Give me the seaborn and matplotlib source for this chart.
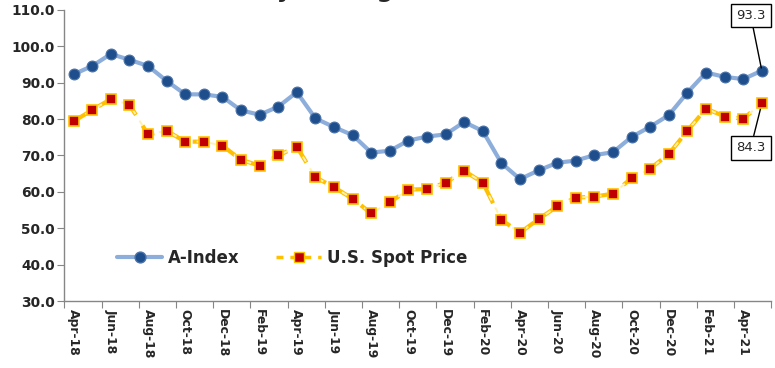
import matplotlib
matplotlib.use("Agg")
import matplotlib.pyplot as plt
import seaborn as sns
import pandas as pd
from matplotlib.lines import Line2D

# Monthly values, Apr-18 .. May-21
months = pd.date_range("2018-04-01", "2021-05-01", freq="MS").strftime("%b-%y").tolist()

a_index = [92.3, 94.6, 97.9, 96.3, 94.6, 90.5, 86.8, 86.8, 86.1, 82.4,
           81.2, 83.4, 87.4, 80.2, 77.8, 75.6, 70.8, 71.3, 74.1, 75.2,
           75.8, 79.2, 76.7, 67.9, 63.5, 65.9, 68.0, 68.6, 70.1, 70.9,
           75.1, 77.9, 81.1, 87.3, 92.8, 91.6, 91.0, 93.3]

us_spot = [79.4, 82.5, 85.5, 84.0, 75.8, 76.8, 73.8, 73.8, 72.7, 68.8,
           67.2, 70.0, 72.4, 64.0, 61.3, 58.1, 54.1, 57.1, 60.6, 60.8,
           62.5, 65.8, 62.5, 52.3, 48.8, 52.5, 56.0, 58.4, 58.7, 59.5,
           63.8, 66.4, 70.4, 76.8, 82.9, 80.7, 80.1, 84.3]

df = pd.DataFrame({"month": months, "A-Index": a_index, "U.S. Spot Price": us_spot})
df["pos"] = range(len(df))

sns.set_style("white")
plt.rcParams["font.family"] = ["DejaVu Sans"]

fig = plt.figure(figsize=(7.75, 3.68), dpi=100)
ax = fig.add_axes([0.083, 0.182, 0.912, 0.791])

blue_line = "#8DAEDB"
blue_mark = "#1F4E8C"
gold = "#FFC000"
red = "#C00000"

# A-Index
sns.lineplot(data=df, x="pos", y="A-Index", ax=ax, color=blue_line, linewidth=3,
             marker="o", markersize=7.8, markerfacecolor=blue_mark,
             markeredgecolor="#4A72A8", markeredgewidth=0.8, zorder=3)

# U.S. Spot Price: gold dashed line with light core
sns.lineplot(data=df, x="pos", y="U.S. Spot Price", ax=ax, color=gold, linewidth=3,
             zorder=2)
sns.lineplot(data=df, x="pos", y="U.S. Spot Price", ax=ax, color="#FFF2B0", linewidth=1.4,
             zorder=2.1)
ax.lines[-1].set_dashes([3, 4])
ax.lines[-2].set_dashes([4, 3])
ax.plot(df["pos"], df["U.S. Spot Price"], linestyle="none", marker="s", markersize=7.6,
        markerfacecolor=red, markeredgecolor=gold, markeredgewidth=1.2, zorder=4)

# axes
ax.set_xlim(-0.5, len(df) - 0.5)
ax.set_ylim(30, 110)
ax.set_yticks(range(30, 111, 10))
ax.set_yticklabels([f"{v:.1f}" for v in range(30, 111, 10)], fontsize=9.9,
                   fontweight="bold")
ax.set_xticks([i - 0.5 for i in range(0, len(df) + 1, 2)])
ax.set_xticklabels([])
ax.set_xticks(list(range(0, len(df), 2)), minor=True)
ax.set_xticklabels(months[::2], minor=True, rotation=-90, fontsize=8.9,
                   fontweight="bold")
ax.tick_params(axis="x", which="major", length=5, color="#868686", direction="out",
               bottom=True)
ax.tick_params(axis="x", which="minor", length=0, pad=6)
ax.tick_params(axis="y", length=5, color="#868686", direction="out", left=True, pad=2)
ax.set_xlabel("")
ax.set_ylabel("")
for side in ["top", "right"]:
    ax.spines[side].set_visible(False)
for side in ["left", "bottom"]:
    ax.spines[side].set_color("#868686")
    ax.spines[side].set_linewidth(1)
ax.grid(False)

# end labels
box = dict(boxstyle="square,pad=0.4", fc="white", ec="black", lw=1)
ax.annotate("93.3", xy=(37, 93.3), xytext=(36.4, 108.5), fontsize=9.5, ha="center",
            va="center", bbox=box, annotation_clip=False,
            arrowprops=dict(arrowstyle="-", color="black", lw=1, shrinkA=0, shrinkB=2))
ax.annotate("84.3", xy=(37, 84.3), xytext=(36.4, 72.1), fontsize=9.5, ha="center",
            va="center", bbox=box, annotation_clip=False,
            arrowprops=dict(arrowstyle="-", color="black", lw=1, shrinkA=0, shrinkB=2))

# legend
handles = [
    Line2D([], [], color=blue_line, linewidth=3, marker="o", markersize=7.8,
           markerfacecolor=blue_mark, markeredgecolor="#4A72A8"),
    Line2D([], [], color=gold, linewidth=2.5, linestyle=(0, (2, 2)), marker="s",
           markersize=7.6, markerfacecolor=red, markeredgecolor=gold),
]
fig.legend(handles, ["A-Index", "U.S. Spot Price"], loc="center left",
           bbox_to_anchor=(0.132, 0.30), ncol=2, frameon=False, handlelength=2.7,
           handletextpad=0.35, columnspacing=2.2,
           prop={"weight": "bold", "size": 12})

# title, mostly cut off by the top edge of the image
fig.text(0.237, 1.007, "Monthly Average Prices", fontsize=17, fontweight="bold",
         ha="left", va="baseline")

fig.savefig("out.png", dpi=100)
